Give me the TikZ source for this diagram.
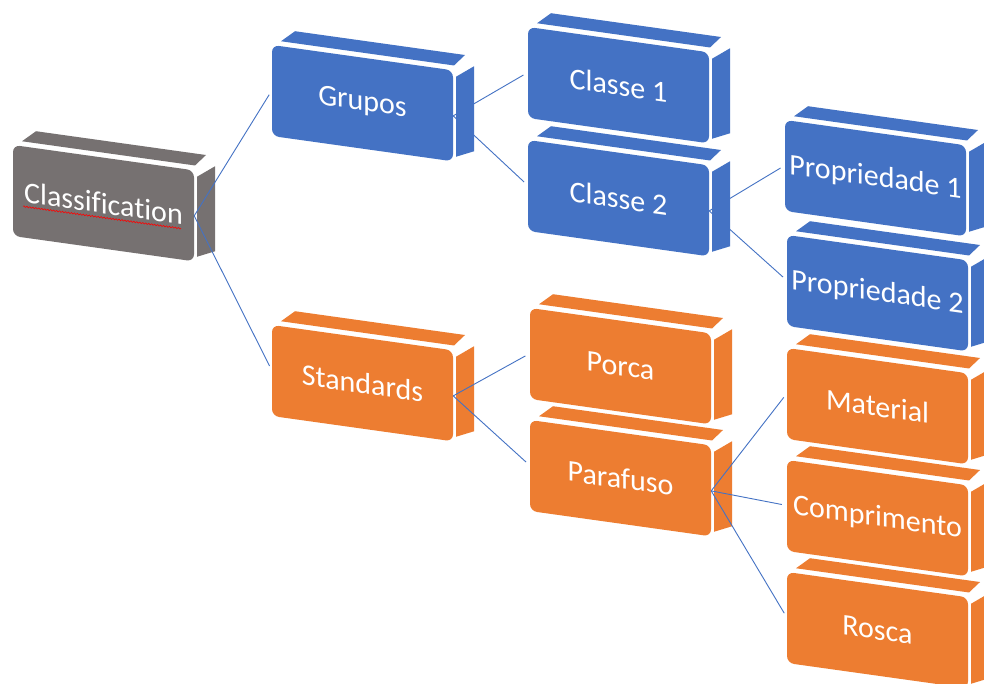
\documentclass[tikz,border=0pt]{standalone}
\usepackage{fontspec}
\setmainfont{Carlito}[Ligatures={NoCommon}]
\usetikzlibrary{decorations.pathmorphing}
\definecolor{cgray}{HTML}{767171}
\definecolor{cblue}{HTML}{4472C4}
\definecolor{corange}{HTML}{ED7D31}
\tikzset{
  boxface/.style={transform shape, rounded corners=7pt, minimum width=181pt, minimum height=91pt,
    inner sep=0pt, text=white, font=\fontsize{30}{36}\selectfont},
  conn/.style={draw=cblue, line width=0.9pt, shorten >=5pt}
}
\newcommand\cubebox[5]{%
  \begin{scope}[shift={(#2,#3)}, yslant=-0.14]
    \fill[#4] (9,-5) -- (182,-5) -- (193,-17) -- (23,-17) -- cycle;
    \fill[#4] (184,6) -- (202,-7) -- (202,78) -- (184,86) -- cycle;
    \node[boxface, fill=#4] (#1) at (90.5,45.5) {#5};
  \end{scope}}
\begin{document}
\begin{tikzpicture}[x=1pt, y=-1pt]
  \clip (0,0) rectangle (984,684);
  \fill[white] (0,0) rectangle (984,684);
  \cubebox{cls}{13}{145}{cgray}{Classification}
  \begin{scope}[shift={(13,145)}, yslant=-0.14]
    \draw[red, line width=0.6pt, decorate, decoration={snake, amplitude=0.7pt, segment length=3pt}] (10,60) -- (168,60);
  \end{scope}
  \cubebox{grp}{272}{45}{cblue}{Grupos}
  \cubebox{cA}{528}{27}{cblue}{Classe 1}
  \cubebox{cB}{528}{140}{cblue}{Classe 2}
  \cubebox{pA}{785}{120}{cblue}{Propriedade 1}
  \cubebox{pB}{787}{235}{cblue}{Propriedade 2}
  \cubebox{std}{272}{325}{corange}{Standards}
  \cubebox{por}{530}{308}{corange}{Porca}
  \cubebox{par}{530}{420}{corange}{Parafuso}
  \cubebox{mat}{787}{348}{corange}{Material}
  \cubebox{comp}{787}{460}{corange}{Comprimento}
  \cubebox{ros}{787}{572}{corange}{Rosca}
  \draw[conn] (cls.east) -- (grp.west);
  \draw[conn] (cls.east) -- (std.west);
  \draw[conn] (grp.east) -- (cA.west);
  \draw[conn] (grp.east) -- (cB.west);
  \draw[conn] (cB.east) -- (pA.west);
  \draw[conn] (cB.east) -- (pB.west);
  \draw[conn] (std.east) -- (por.west);
  \draw[conn] (std.east) -- (par.west);
  \draw[conn] (par.east) -- (mat.west);
  \draw[conn] (par.east) -- (comp.west);
  \draw[conn] (par.east) -- (ros.west);
\end{tikzpicture}
\end{document}
